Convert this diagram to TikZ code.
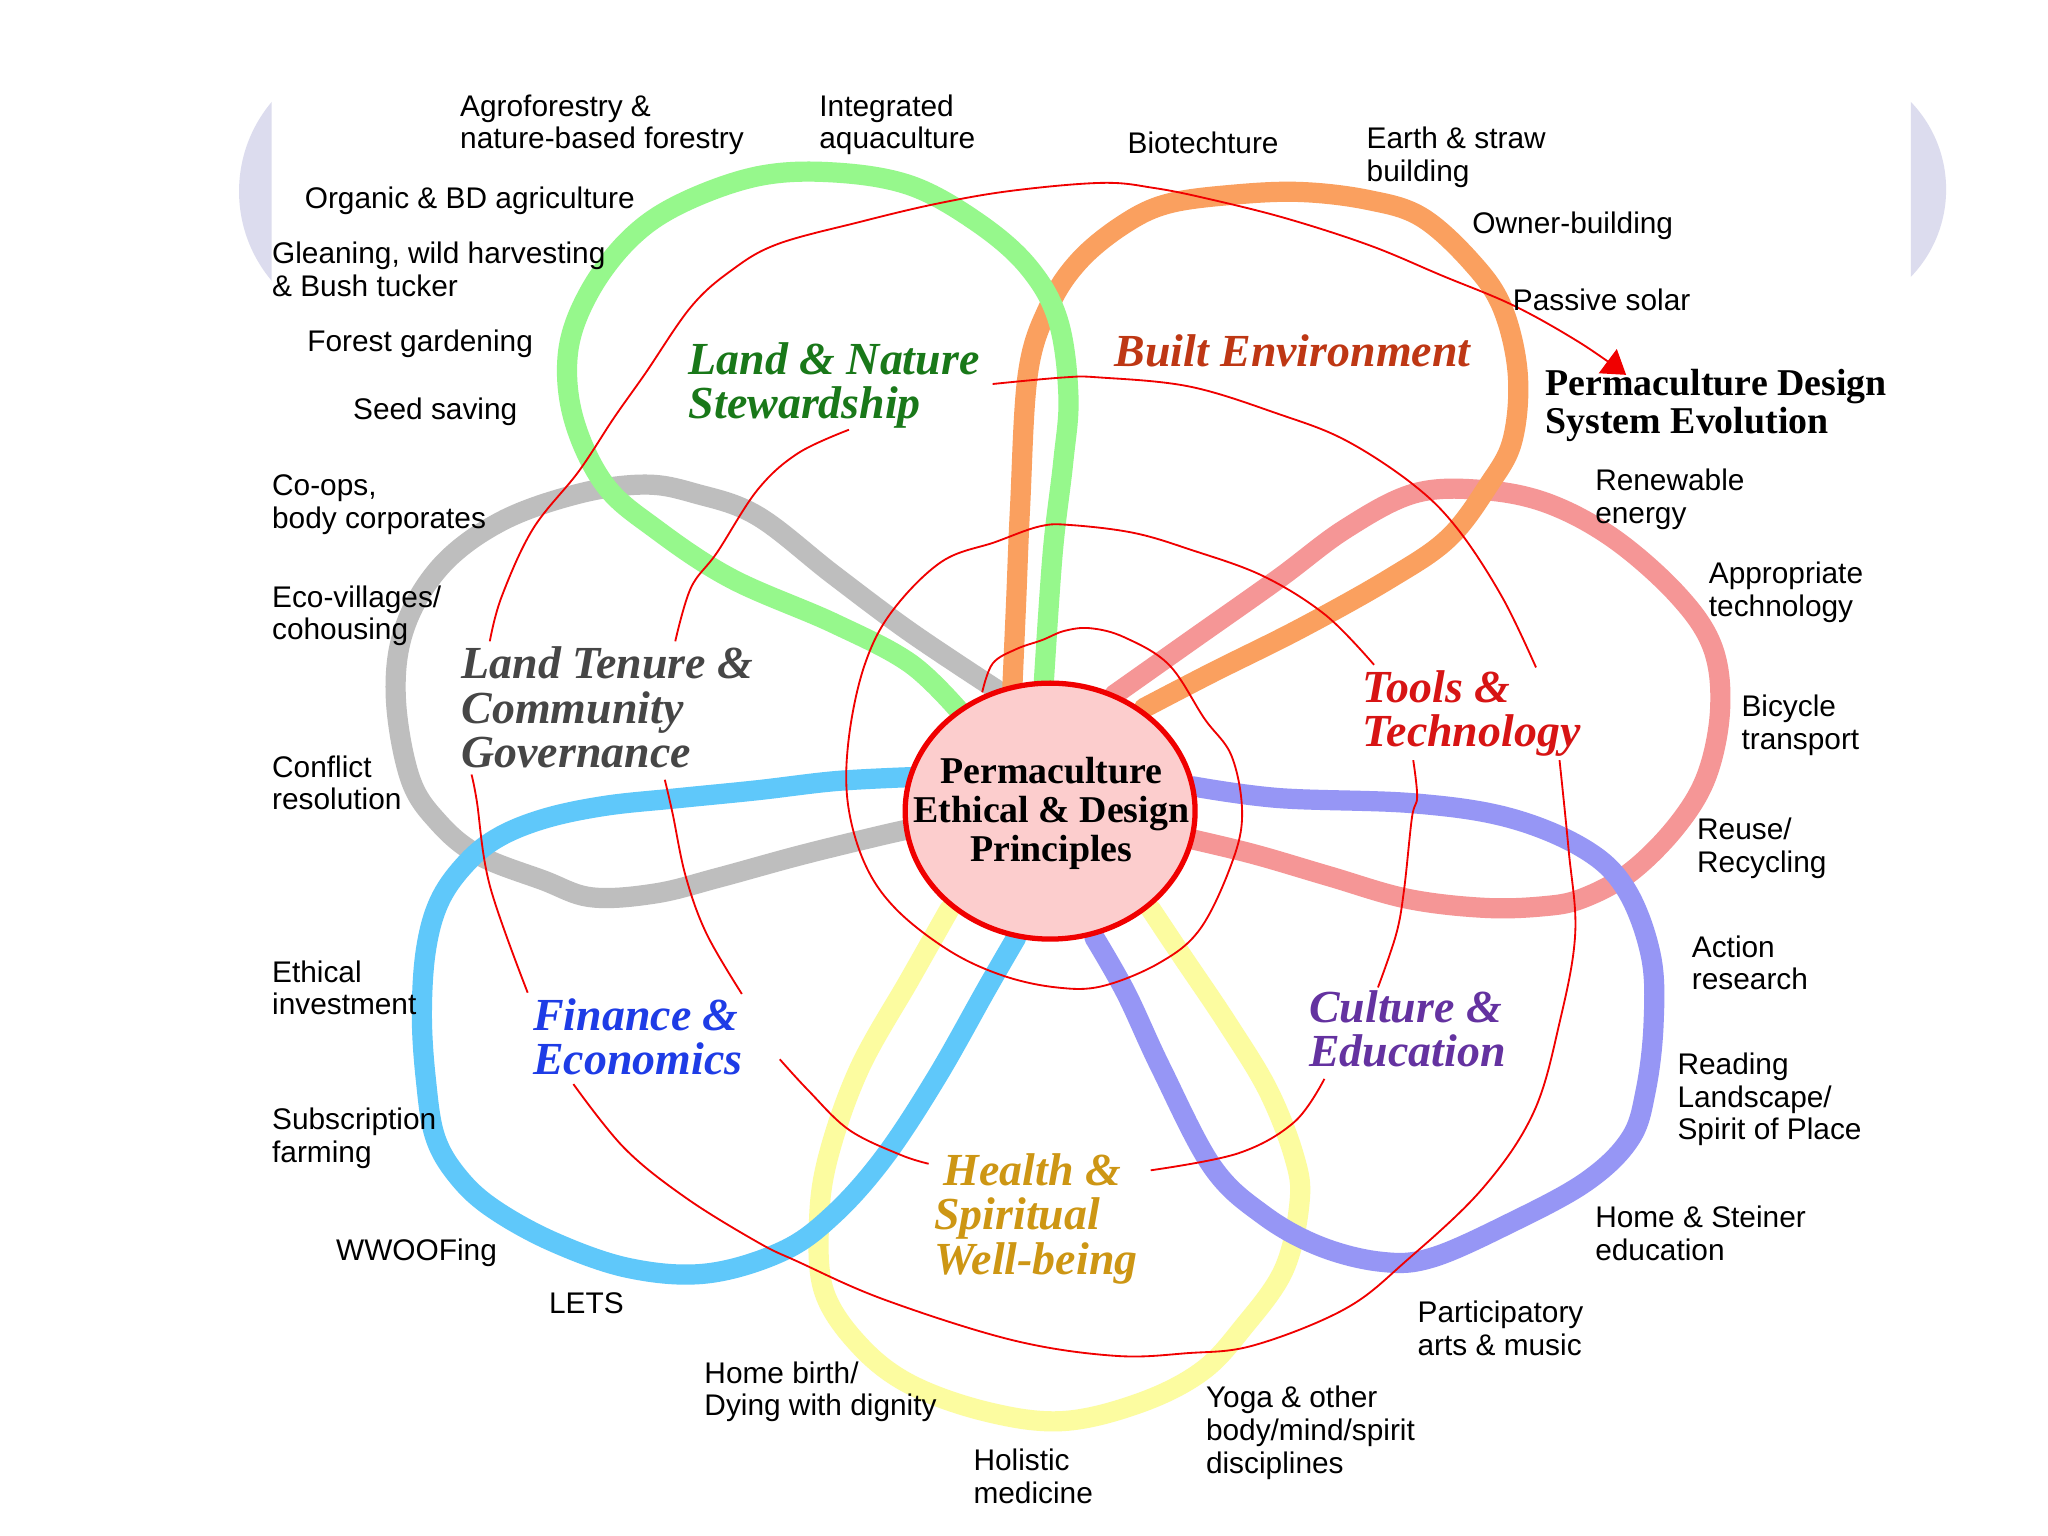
\documentclass[tikz,border=0pt]{standalone}
\usepackage{fontspec}
\setmainfont{Liberation Serif}
\newfontfamily\arialf{Liberation Sans}
\usetikzlibrary{shapes.geometric,arrows.meta}
\definecolor{lavbg}{RGB}{220,220,238}
\definecolor{pgreen}{RGB}{150,248,140}
\definecolor{porange}{RGB}{250,160,95}
\definecolor{ppink}{RGB}{245,150,150}
\definecolor{plav}{RGB}{150,150,245}
\definecolor{pyellow}{RGB}{252,252,160}
\definecolor{pblue}{RGB}{95,200,250}
\definecolor{pgray}{RGB}{190,190,190}
\definecolor{spiralred}{RGB}{240,0,0}
\definecolor{corefill}{RGB}{252,205,205}
\definecolor{cgreen}{RGB}{25,120,25}
\definecolor{corange}{RGB}{190,55,20}
\definecolor{cred}{RGB}{215,20,20}
\definecolor{cpurple}{RGB}{100,50,160}
\definecolor{cgold}{RGB}{205,150,20}
\definecolor{cblue}{RGB}{30,60,230}
\definecolor{cgray}{RGB}{70,70,70}
\begin{document}
\begin{tikzpicture}[x=0.02cm,y=-0.02cm,
  petal/.style={line width=8.8pt,line cap=round,line join=round},
  spiral/.style={draw=spiralred,line width=0.8pt},
  lbl/.style={anchor=north west,inner sep=0pt,align=left,font=\arialf\fontsize{13}{14.2}\selectfont},
  cat/.style={anchor=north west,inner sep=0pt,align=left,font=\bfseries\itshape\fontsize{20}{19.3}\selectfont}]
\useasboundingbox (0,0) rectangle (1568,1176);
\fill[white] (0,0) rectangle (1568,1176);
% lavender background fragments
\begin{scope}
\clip (0,0) rectangle (208,1176);
\fill[lavbg] (289.3,146.5) circle[radius=2.126cm];
\end{scope}
\begin{scope}
\clip (1463,0) rectangle (1568,1176);
\fill[lavbg] (1393.4,145) circle[radius=1.932cm];
\end{scope}
% petals
\draw[petal,pgray] plot[smooth,tension=0.6] coordinates {(763,528) (697,484) (638,440) (580,395) (533,378) (494,371) (443,378) (384,399) (338,433) (310,480) (303,533) (314,596) (336,630) (367,655) (416,674) (453,687) (502,684) (550,672) (612,655) (673,640) (700,634)};
\draw[petal,ppink] plot[smooth,tension=0.6] coordinates {(853,532) (911,491) (979,443) (1030,405) (1082,378) (1133,375) (1184,385) (1235,412) (1284,455) (1311,495) (1317,542) (1307,593) (1284,632) (1248,668) (1211,688) (1180,694) (1135,695) (1077,688) (1018,671) (960,654) (910,642)};
\draw[petal,porange] plot[smooth,tension=0.6] coordinates {(775,528) (778,460) (781,388) (787,286) (803,235) (826,200) (860,172) (894,156) (945,149) (996,147) (1047,153) (1088,166) (1126,200) (1150,235) (1162,286) (1158,337) (1140,371) (1109,412) (1064,443) (996,481) (928,515) (876,542)};
\draw[petal,pgreen] plot[smooth,tension=0.6] coordinates {(736,546) (697,508) (638,477) (560,443) (502,405) (463,371) (439,320) (435,269) (451,224) (482,183) (521,156) (580,135) (638,132) (697,142) (748,170) (787,204) (810,245) (818,303) (814,354) (806,423) (799,525)};
\draw[petal,pyellow] plot[smooth,tension=0.6] coordinates {(727,696) (697,749) (658,818) (634,886) (627,937) (631,989) (658,1030) (697,1060) (756,1081) (814,1088) (873,1074) (920,1050) (952,1016) (983,972) (995,920) (991,886) (971,835) (940,784) (905,732) (881,696)};
\draw[petal,plav] plot[smooth,tension=0.6] coordinates {(913,602) (979,611) (1082,615) (1155,626) (1213,650) (1245,681) (1264,732) (1266,784) (1260,835) (1248,872) (1214,905) (1155,937) (1096,963) (1057,966) (1010,954) (967,930) (928,893) (889,818) (862,760) (838,718)};
\draw[petal,pblue] plot[smooth,tension=0.6] coordinates {(697,595) (640,598) (580,605) (520,611) (463,617) (416,627) (380,642) (355,663) (336,691) (326,728) (323,777) (326,826) (333,870) (350,900) (377,925) (424,951) (482,971) (541,975) (599,958) (638,930) (677,886) (717,825) (756,756) (778,718)};
% spiral
\draw[spiral] plot[smooth,tension=0.6] coordinates {(752,530) (760,508) (778,497) (798,490) (815,483) (835,481) (861,488) (895,509) (922,550) (943,579) (951,623) (943,661) (919,711) (888,737) (844,755) (809,756) (768,747) (727,728) (686,696) (662,661) (649,614) (650,564) (662,509) (683,468) (721,430) (762,415) (796,403) (820,402) (868,408) (912,421) (967,441) (1015,471) (1052,509)};
\draw[spiral] plot[smooth,tension=0.6] coordinates {(1082,582) (1085,610) (1081,626) (1075,681) (1069,715) (1055,756)};
\draw[spiral] plot[smooth,tension=0.6] coordinates {(1014,826) (991,859) (948,883) (881,896)};
\draw[spiral] plot[smooth,tension=0.6] coordinates {(711,891) (689,884) (650,865) (619,835) (597,811)};
\draw[spiral] plot[smooth,tension=0.6] coordinates {(568,761) (541,715) (525,671) (515,623) (509,597)};
\draw[spiral] plot[smooth,tension=0.6] coordinates {(517,491) (529,450) (549,423) (580,375) (611,347) (650,329)};
\draw[spiral] plot[smooth,tension=0.6] coordinates {(760,294) (814,289) (842,289) (911,296) (979,317) (1030,337) (1082,371) (1116,405) (1150,457) (1176,511)};
\draw[spiral] plot[smooth,tension=0.6] coordinates {(1194,582) (1201,651) (1206,715) (1194,783) (1174,852) (1135,910) (1077,965) (1030,1002) (960,1030) (909,1036) (853,1038) (775,1026) (677,995) (611,966) (580,951) (525,917) (478,879) (439,830)};
\draw[spiral] plot[smooth,tension=0.6] coordinates {(404,760) (375,678) (365,613) (361,593)};
\coordinate (tip) at (1245,287);
\draw[spiral,-{Triangle[length=10pt,width=13pt]}] plot[smooth,tension=0.6] coordinates {(375,491) (384,457) (408,405) (443,361) (470,320) (494,286) (529,235) (560,207) (595,187) (658,170) (717,156) (775,146) (844,140) (884,144) (924,152) (984,167) (1049,188) (1104,211) (1159,234) (1209,262) (tip)};
% centre
\node[ellipse,draw=spiralred,line width=2.3pt,fill=corefill,minimum width=4.44cm,minimum height=3.92cm,inner sep=0pt] (core) at (804,621) {};
\node[align=center,inner sep=0pt,font=\bfseries\fontsize{16.5}{17}\selectfont] (coretext) at (805,623) {Permaculture\\Ethical \& Design\\Principles};
\node[anchor=north west,inner sep=0pt,align=left,font=\bfseries\fontsize{16.5}{16.7}\selectfont] (evol) at (1183,282) {Permaculture Design\\System Evolution};
% category labels
\node[cat,text=cgreen] (landnat) at (527,262) {Land \& Nature\\Stewardship};
\node[cat,text=corange] (built) at (853,256) {Built Environment};
\node[cat,text=cred] (tools) at (1043,513) {Tools \&\\Technology};
\node[cat,text=cpurple] (culture) at (1002,758) {Culture \&\\Education};
\node[cat,text=cgold] (health) at (715,883) {\hspace*{4pt}Health \&\\Spiritual\\Well-being};
\node[cat,text=cblue] (finance) at (408,764) {Finance \&\\Economics};
\node[cat,text=cgray] (tenure) at (353,495) {Land Tenure \&\\Community\\Governance};
% outer labels
\node[lbl] (l1) at (352,72) {Agroforestry \&\\nature-based forestry};
\node[lbl] (l2) at (627,72) {Integrated\\aquaculture};
\node[lbl] (l3) at (863,101) {Biotechture};
\node[lbl] (l4) at (1046,97) {Earth \& straw\\building};
\node[lbl] (l5) at (1127,162) {Owner-building};
\node[lbl] (l6) at (1158,221) {Passive solar};
\node[lbl] (l7) at (1221,359) {Renewable\\energy};
\node[lbl] (l8) at (1308,430) {Appropriate\\technology};
\node[lbl] (l9) at (1333,532) {Bicycle\\transport};
\node[lbl] (l10) at (1299,626) {Reuse/\\Recycling};
\node[lbl] (l11) at (1295,716) {Action\\research};
\node[lbl] (l12) at (1284,806) {Reading\\Landscape/\\Spirit of Place};
\node[lbl] (l13) at (1221,923) {Home \& Steiner\\education};
\node[lbl] (l14) at (1085,996) {Participatory\\arts \& music};
\node[lbl] (l15) at (923,1061) {Yoga \& other\\body/mind/spirit\\disciplines};
\node[lbl] (l16) at (745,1109) {Holistic\\medicine};
\node[lbl] (l17) at (539,1042) {Home birth/\\Dying with dignity};
\node[lbl] (l18) at (420,989) {LETS};
\node[lbl] (l19) at (257,948) {WWOOFing};
\node[lbl] (l20) at (208,848) {Subscription\\farming};
\node[lbl] (l21) at (208,735) {Ethical\\investment};
\node[lbl] (l22) at (208,578) {Conflict\\resolution};
\node[lbl] (l23) at (208,448) {Eco-villages/\\cohousing};
\node[lbl] (l24) at (208,363) {Co-ops,\\body corporates};
\node[lbl] (l25) at (270,304) {Seed saving};
\node[lbl] (l26) at (235,252) {Forest gardening};
\node[lbl] (l27) at (208,185) {Gleaning, wild harvesting\\\& Bush tucker};
\node[lbl] (l28) at (233,143) {Organic \& BD agriculture};
\end{tikzpicture}
\end{document}
